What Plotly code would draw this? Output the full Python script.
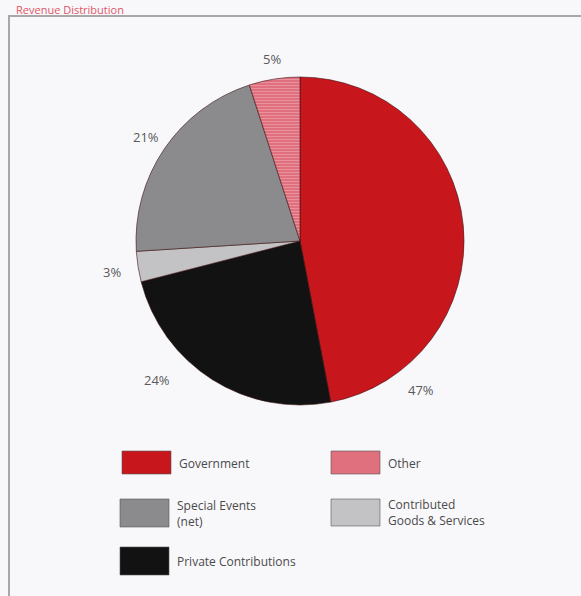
import plotly.graph_objects as go

W, H = 581, 596

# ---- data ----
categories = ["Government", "Private Contributions", "Contributed Goods & Services",
              "Special Events (net)", "Other"]
values = [47, 24, 3, 21, 5]
value_labels = ["47%", "24%", "3%", "21%", "5%"]
colors = ["#c8161d", "#121212", "#c3c3c5", "#8b8b8d", "#e0707e"]

# legend entries (display text) in grid order
legend_items = [
    ("Government", "Government"),
    ("Other", "Other"),
    ("Special Events (net)", "Special Events<br>(net)"),
    ("Contributed Goods & Services", "Contributed<br>Goods & Services"),
    ("Private Contributions", "Private Contributions"),
]

# ---- layout helpers (pixel -> paper) ----
def fx(x):
    return x / W

def fy(y):
    return 1 - y / H

cx, cy, r = 300, 241, 164

fig = go.Figure()
fig.add_trace(go.Pie(
    labels=categories,
    values=values,
    sort=False,
    direction="clockwise",
    rotation=0,
    textinfo="none",
    hoverinfo="label+percent",
    showlegend=False,
    marker=dict(
        colors=colors,
        line=dict(color="#3a1010", width=0.6),
        pattern=dict(shape=["", "", "", "", "-"],
                     bgcolor=colors,
                     fgcolor=["#c8161d", "#121212", "#c3c3c5", "#8b8b8d", "#ea95a0"],
                     size=3, solidity=0.3),
    ),
    domain=dict(x=[fx(cx - r), fx(cx + r)], y=[fy(cy + r), fy(cy - r)]),
))

annotations = []
shapes = []

# percentage labels placed around the pie
label_pos = {"47%": (421, 390), "24%": (157, 380), "3%": (112, 272),
             "21%": (146, 137), "5%": (272, 59)}
for lab in value_labels:
    x, y = label_pos[lab]
    annotations.append(dict(x=fx(x), y=fy(y), xref="paper", yref="paper",
                            xanchor="center", yanchor="middle",
                            text=lab, showarrow=False,
                            font=dict(family="Open Sans", size=13, color="#5a5a5a")))

# legend grid
legend_slots = [(122, 451, 474), (331, 451, 474), (120, 499, 527), (331, 499, 526), (120, 547, 575)]
text_y = [463, 463, 513, 512, 561]
for (cat, txt), (x0, y0, y1), ty in zip(legend_items, legend_slots, text_y):
    col = colors[categories.index(cat)]
    shapes.append(dict(type="rect", xref="paper", yref="paper",
                       x0=fx(x0), x1=fx(x0 + 49), y0=fy(y1), y1=fy(y0),
                       fillcolor=col, line=dict(color="#555555", width=0.6)))
    annotations.append(dict(x=fx(x0 + 55), y=fy(ty), xref="paper", yref="paper",
                            xanchor="left", yanchor="middle", align="left",
                            text=txt, showarrow=False,
                            font=dict(family="Open Sans", size=12, color="#4a4a4a")))

# frame lines
shapes.append(dict(type="line", xref="paper", yref="paper",
                   x0=fx(8), x1=1, y0=fy(16), y1=fy(16),
                   line=dict(color="#a8a8a8", width=2)))
shapes.append(dict(type="line", xref="paper", yref="paper",
                   x0=fx(9), x1=fx(9), y0=fy(16), y1=0,
                   line=dict(color="#a8a8a8", width=2)))

# title at top
annotations.append(dict(x=fx(14), y=1, xref="paper", yref="paper",
                        xanchor="left", yanchor="top",
                        text="Revenue Distribution", showarrow=False,
                        font=dict(family="Open Sans", size=11, color="#e25566")))

fig.update_layout(
    width=W, height=H,
    margin=dict(l=0, r=0, t=0, b=0),
    paper_bgcolor="#f8f8fb",
    plot_bgcolor="#f8f8fb",
    annotations=annotations,
    shapes=shapes,
)

fig.write_html("out.html")
